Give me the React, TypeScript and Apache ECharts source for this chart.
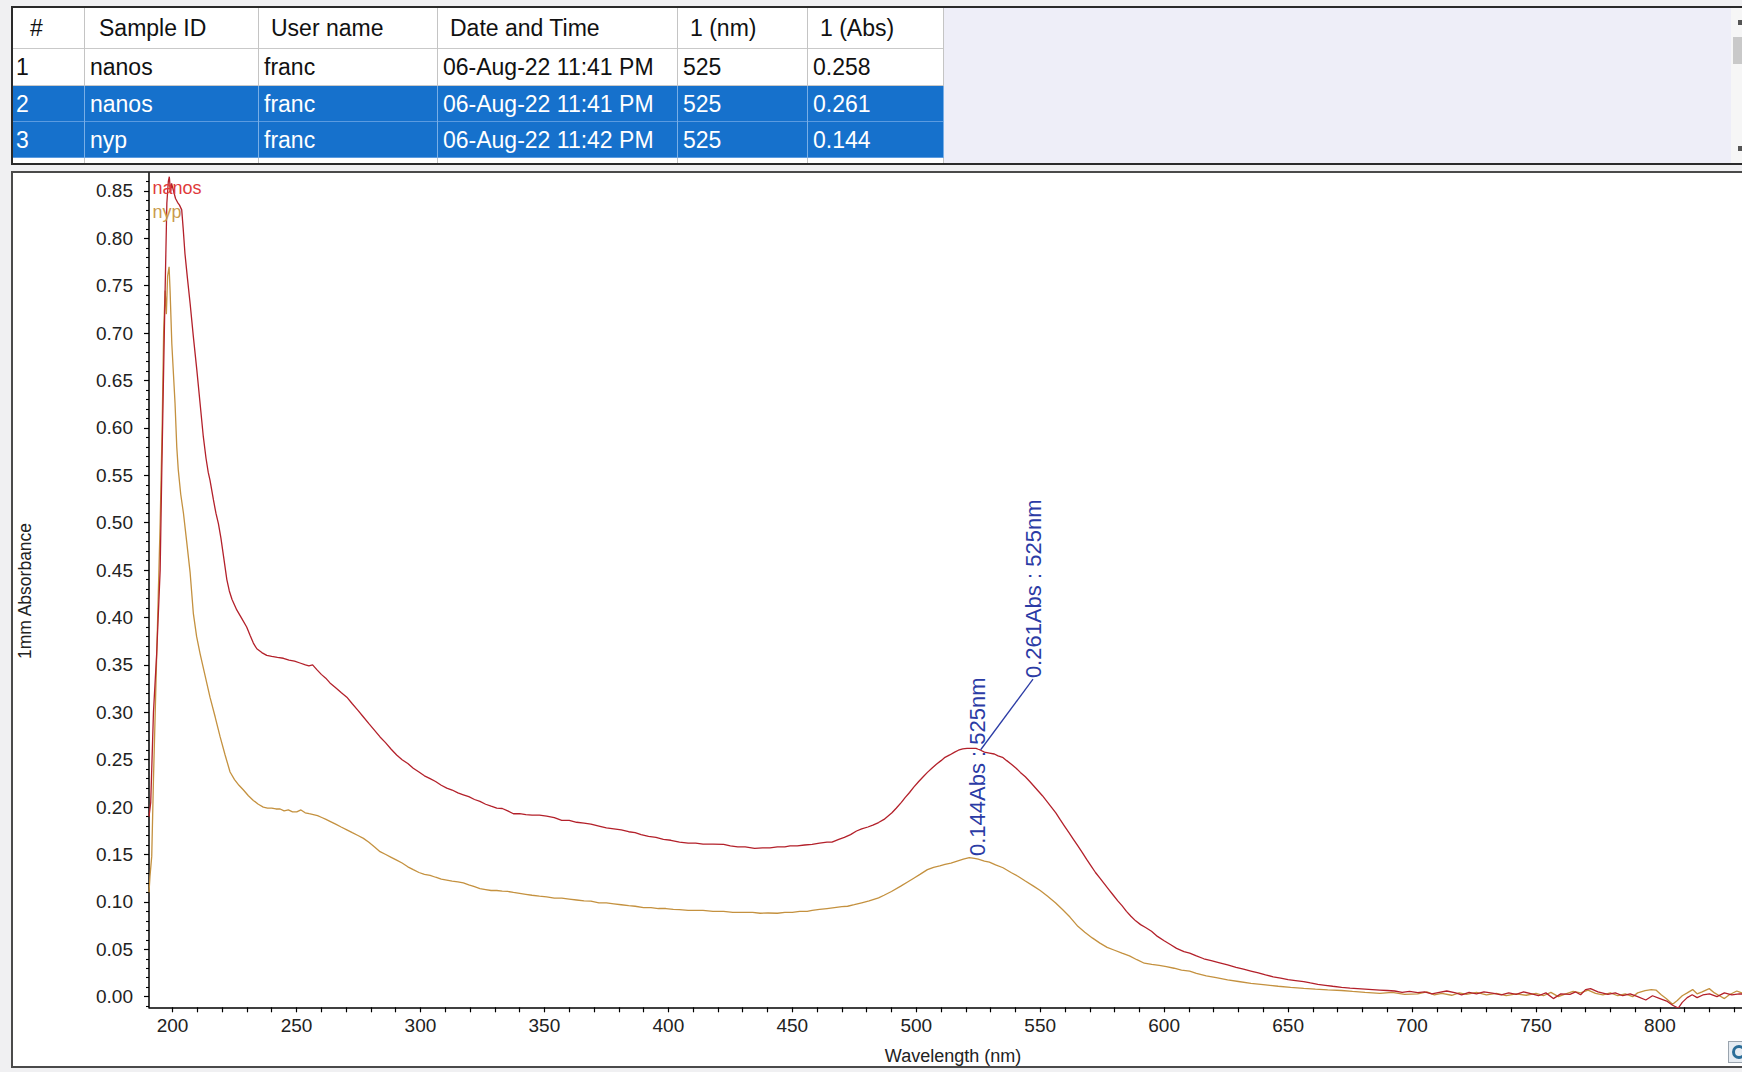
import React, { useEffect, useRef } from "react";
import * as echarts from "echarts";

const FONT = "'Liberation Sans', Arial, Helvetica, sans-serif";

// ---------- table content ----------
const tableColumns = ["#", "Sample ID", "User name", "Date and Time", "1 (nm)", "1 (Abs)"];
const rowNumbers = ["1", "2", "3"];
const sampleIds = ["nanos", "nanos", "nyp"];
const userNames = ["franc", "franc", "franc"];
const dateTimes = ["06-Aug-22 11:41 PM", "06-Aug-22 11:41 PM", "06-Aug-22 11:42 PM"];
const peakWavelengths = ["525", "525", "525"];
const peakAbsorbances = ["0.258", "0.261", "0.144"];
const selectedRows = [false, true, true];

// ---------- axes ----------
const xLabelValues = [200, 250, 300, 350, 400, 450, 500, 550, 600, 650, 700, 750, 800];
const xTickValues = [
  200, 210, 220, 230, 240, 250, 260, 270, 280, 290, 300, 310, 320, 330, 340, 350, 360, 370, 380, 390,
  400, 410, 420, 430, 440, 450, 460, 470, 480, 490, 500, 510, 520, 530, 540, 550, 560, 570, 580, 590,
  600, 610, 620, 630, 640, 650, 660, 670, 680, 690, 700, 710, 720, 730, 740, 750, 760, 770, 780, 790,
  800, 810, 820, 830,
];
const yLabelValues = [0, 0.05, 0.1, 0.15, 0.2, 0.25, 0.3, 0.35, 0.4, 0.45, 0.5, 0.55, 0.6, 0.65, 0.7, 0.75, 0.8, 0.85];
const xAxisName = "Wavelength (nm)";
const yAxisName = "1mm Absorbance";
const seriesNames = ["nanos", "nyp"];

// ---------- spectra [wavelength nm, absorbance] ----------
const nanosSpectrum = [
  [190.5, 0.19], [191.2, 0.205], [192.3, 0.3], [193.6, 0.362], [195.0, 0.45], [195.6, 0.545], [196.3, 0.647],
  [197.0, 0.745], [197.7, 0.837], [198.3, 0.86], [198.7, 0.865], [199.2, 0.848], [199.6, 0.858], [200.3, 0.851],
  [201.2, 0.842], [202.0, 0.838], [202.8, 0.835], [203.7, 0.83], [204.3, 0.81], [205.0, 0.784], [206.0, 0.758],
  [207.1, 0.731], [208.4, 0.696], [209.8, 0.661], [211.1, 0.626], [212.4, 0.591], [213.5, 0.568], [214.4, 0.553],
  [215.1, 0.545], [216.5, 0.524], [217.5, 0.51], [218.5, 0.499], [219.5, 0.484], [220.6, 0.464], [221.9, 0.44],
  [222.9, 0.428], [224.0, 0.419], [225.9, 0.408], [227.9, 0.399], [229.9, 0.39], [231.3, 0.381], [232.6, 0.373],
  [234.0, 0.367], [236.0, 0.363], [238.0, 0.36], [240.0, 0.359], [242.3, 0.358], [244.7, 0.357], [247.0, 0.355],
  [249.2, 0.354], [251.4, 0.352], [253.6, 0.35], [255.0, 0.349], [256.5, 0.35], [258.2, 0.345], [260.0, 0.34],
  [261.8, 0.336], [263.5, 0.331], [265.8, 0.326], [268.0, 0.321], [270.3, 0.316], [272.5, 0.309], [274.8, 0.302],
  [277.0, 0.295], [279.2, 0.288], [281.5, 0.281], [283.7, 0.274], [285.9, 0.268], [288.2, 0.261], [290.4, 0.255],
  [292.6, 0.25], [294.9, 0.246], [297.1, 0.241], [299.4, 0.237], [301.6, 0.233], [303.9, 0.23], [306.1, 0.227],
  [308.4, 0.223], [310.6, 0.22], [312.8, 0.218], [315.1, 0.215], [317.3, 0.213], [319.5, 0.211], [321.8, 0.208],
  [324.0, 0.206], [326.3, 0.203], [328.5, 0.201], [330.8, 0.199], [333.0, 0.1985], [335.2, 0.196], [337.5, 0.193],
  [340.0, 0.193], [342.5, 0.192], [345.0, 0.1915], [348.0, 0.1915], [350.9, 0.1905], [354.0, 0.189], [357.0, 0.186],
  [360.0, 0.186], [363.0, 0.184], [366.0, 0.183], [368.75, 0.182], [372.0, 0.18], [375.0, 0.178], [378.0, 0.177],
  [381.0, 0.176], [384.0, 0.174], [386.6, 0.173], [389.0, 0.171], [392.0, 0.169], [395.0, 0.168], [398.0, 0.166],
  [401.0, 0.165], [404.5, 0.163], [408.0, 0.162], [411.0, 0.162], [414.0, 0.161], [418.0, 0.161], [422.3, 0.1607],
  [425.0, 0.159], [428.0, 0.158], [431.0, 0.158], [434.8, 0.1565], [438.0, 0.157], [441.0, 0.157], [444.0, 0.158],
  [447.0, 0.158], [449.1, 0.159], [452.0, 0.159], [455.0, 0.16], [458.0, 0.1607], [461.0, 0.162], [464.0, 0.163],
  [466.0, 0.163], [468.75, 0.166], [471.0, 0.168], [473.5, 0.171], [475.9, 0.1748], [478.0, 0.177], [480.5, 0.179],
  [482.5, 0.181], [484.8, 0.1837], [487.0, 0.187], [490.2, 0.194], [492.0, 0.199], [494.0, 0.205], [495.5, 0.21],
  [497.3, 0.2154], [499.0, 0.221], [501.0, 0.227], [502.8, 0.232], [504.5, 0.2366], [506.3, 0.241], [508.0, 0.245],
  [510.0, 0.249], [511.6, 0.2525], [513.5, 0.255], [515.5, 0.258], [517.0, 0.26], [518.75, 0.2614], [520.5, 0.262],
  [522.3, 0.262], [524.1, 0.262], [525.0, 0.261], [526.0, 0.26], [527.5, 0.258], [529.5, 0.257], [531.5, 0.256],
  [533.0, 0.254], [534.8, 0.2525], [536.5, 0.249], [538.5, 0.245], [540.3, 0.241], [542.0, 0.2366], [544.0, 0.232],
  [545.8, 0.227], [547.5, 0.222], [549.2, 0.217], [550.9, 0.212], [552.7, 0.206], [554.5, 0.2], [556.3, 0.194],
  [558.0, 0.187], [559.8, 0.18], [561.6, 0.173], [563.4, 0.166], [565.2, 0.159], [567.0, 0.152], [568.75, 0.1448],
  [570.5, 0.138], [572.3, 0.131], [574.1, 0.125], [575.9, 0.119], [577.7, 0.113], [579.5, 0.107], [581.3, 0.101],
  [583.0, 0.096], [584.8, 0.09], [586.6, 0.0848], [588.5, 0.08], [590.5, 0.076], [592.5, 0.073], [594.9, 0.069],
  [597.3, 0.0636], [600.0, 0.059], [602.5, 0.055], [605.0, 0.051], [608.0, 0.0475], [610.3, 0.046], [613.0, 0.043],
  [616.0, 0.04], [619.0, 0.038], [622.0, 0.036], [625.6, 0.0336], [629.0, 0.031], [632.0, 0.029], [635.0, 0.027],
  [638.0, 0.025], [640.9, 0.023], [644.0, 0.021], [647.0, 0.0195], [650.0, 0.018], [653.0, 0.017], [656.3, 0.0159],
  [659.0, 0.0145], [662.0, 0.013], [665.0, 0.012], [668.0, 0.011], [671.6, 0.0099], [675.0, 0.009], [678.0, 0.0085],
  [681.0, 0.008], [684.0, 0.0075], [687.0, 0.007], [690.0, 0.0065], [693.0, 0.006], [696.0, 0.0045], [699.0, 0.0055],
  [702.3, 0.0042], [705.0, 0.005], [708.0, 0.003], [711.0, 0.0045], [714.0, 0.006], [717.6, 0.004], [720.0, 0.002],
  [723.0, 0.0045], [726.0, 0.003], [729.0, 0.005], [733.0, 0.0035], [736.0, 0.002], [739.0, 0.004], [742.0, 0.0025],
  [745.0, 0.005], [748.3, 0.003], [751.0, 0.001], [754.0, 0.004], [757.0, -0.002], [760.0, 0.003], [763.7, 0.0024],
  [766.0, 0.005], [768.0, 0.002], [770.0, 0.0075], [772.0, 0.0085], [775.0, 0.005], [779.0, 0.0024], [782.0, 0.004],
  [785.0, 0.001], [788.0, 0.003], [791.0, 0.0], [794.3, -0.0035], [797.0, 0.001], [800.0, -0.002], [803.0, -0.005],
  [805.1, -0.009], [807.4, -0.012], [809.0, -0.006], [811.0, -0.001], [813.0, 0.002], [815.0, -0.001], [817.3, 0.0018],
  [820.0, 0.003], [823.0, 0.0], [826.0, 0.004], [829.0, 0.002], [832.0, 0.003], [835.4, 0.0024],
];

const nypSpectrum = [
  [190.5, 0.11], [190.9, 0.127], [191.6, 0.148], [192.3, 0.229], [193.0, 0.299], [194.0, 0.4], [195.0, 0.5],
  [195.8, 0.6], [196.4, 0.7], [197.0, 0.745], [197.5, 0.72], [198.0, 0.76], [198.6, 0.77], [199.0, 0.745],
  [199.7, 0.689], [200.4, 0.655], [201.0, 0.626], [201.7, 0.58], [202.3, 0.556], [203.3, 0.53], [204.4, 0.51],
  [205.7, 0.48], [207.1, 0.447], [208.4, 0.404], [209.7, 0.38], [211.1, 0.362], [213.1, 0.339], [215.1, 0.316],
  [217.2, 0.295], [219.2, 0.274], [221.2, 0.255], [223.2, 0.237], [225.0, 0.229], [226.8, 0.223], [228.6, 0.218],
  [230.6, 0.212], [232.6, 0.207], [234.6, 0.203], [236.6, 0.2], [238.3, 0.199], [240.0, 0.199], [241.7, 0.198],
  [243.4, 0.198], [245.0, 0.196], [246.7, 0.197], [248.4, 0.195], [250.1, 0.195], [251.8, 0.197], [253.5, 0.194],
  [255.1, 0.193], [256.8, 0.192], [258.5, 0.191], [260.2, 0.189], [261.9, 0.187], [263.5, 0.185], [265.8, 0.182],
  [268.0, 0.179], [270.3, 0.176], [272.5, 0.173], [274.8, 0.17], [277.0, 0.167], [279.2, 0.163], [281.5, 0.158],
  [283.7, 0.153], [286.0, 0.15], [288.2, 0.147], [290.4, 0.144], [292.6, 0.141], [294.9, 0.137], [297.1, 0.134],
  [299.4, 0.131], [301.6, 0.129], [303.9, 0.128], [306.1, 0.126], [308.4, 0.124], [310.6, 0.123], [312.8, 0.122],
  [315.1, 0.121], [317.3, 0.12], [319.5, 0.118], [321.8, 0.116], [324.0, 0.114], [326.3, 0.113], [328.5, 0.112],
  [330.8, 0.112], [333.0, 0.1113], [335.2, 0.111], [337.5, 0.11], [340.0, 0.109], [342.5, 0.108], [345.0, 0.107],
  [348.0, 0.106], [350.9, 0.1053], [354.0, 0.104], [357.0, 0.104], [360.0, 0.103], [363.0, 0.102], [366.0, 0.101],
  [368.75, 0.1007], [372.0, 0.099], [375.0, 0.099], [378.0, 0.098], [381.0, 0.097], [384.0, 0.096], [386.6, 0.0954],
  [390.0, 0.094], [393.0, 0.094], [396.0, 0.093], [399.0, 0.093], [402.0, 0.092], [404.5, 0.0918], [408.0, 0.091],
  [411.0, 0.091], [414.0, 0.091], [418.0, 0.09], [422.3, 0.09], [426.0, 0.089], [430.0, 0.089], [434.0, 0.089],
  [437.0, 0.088], [440.2, 0.0883], [444.0, 0.088], [447.0, 0.089], [450.0, 0.089], [453.0, 0.09], [456.0, 0.09],
  [458.0, 0.091], [461.0, 0.092], [464.0, 0.093], [467.0, 0.094], [470.0, 0.095], [472.3, 0.0954], [475.0, 0.097],
  [478.0, 0.099], [481.0, 0.101], [484.8, 0.1042], [487.0, 0.107], [490.0, 0.111], [493.75, 0.1166], [496.5, 0.121],
  [499.0, 0.125], [501.5, 0.129], [504.5, 0.134], [507.0, 0.1365], [509.5, 0.138], [511.6, 0.1395], [514.0, 0.141],
  [516.5, 0.143], [519.0, 0.145], [521.4, 0.1466], [523.5, 0.146], [525.0, 0.145], [527.5, 0.143], [529.5, 0.142],
  [532.0, 0.139], [535.0, 0.136], [538.4, 0.1307], [541.0, 0.127], [544.0, 0.122], [547.3, 0.1166], [550.0, 0.112],
  [553.0, 0.106], [556.25, 0.0989], [559.0, 0.092], [562.0, 0.084], [565.2, 0.0742], [568.0, 0.068], [571.0, 0.062],
  [574.1, 0.0565], [577.0, 0.052], [580.0, 0.049], [583.0, 0.0459], [586.0, 0.043], [589.0, 0.039], [592.0, 0.0353],
  [595.0, 0.034], [598.0, 0.033], [600.9, 0.0318], [604.0, 0.03], [607.0, 0.028], [610.3, 0.027], [613.0, 0.0247],
  [617.0, 0.022], [621.0, 0.02], [625.6, 0.0177], [630.0, 0.016], [635.0, 0.014], [640.9, 0.0124], [646.0, 0.011],
  [651.0, 0.0098], [656.3, 0.0088], [661.0, 0.008], [666.0, 0.0072], [671.6, 0.0065], [676.0, 0.0055], [681.0, 0.0045],
  [687.0, 0.0035], [692.0, 0.0045], [697.0, 0.0025], [702.3, 0.003], [706.0, 0.005], [709.0, 0.002], [712.0, 0.0035],
  [716.0, 0.0015], [719.0, 0.004], [722.0, 0.0025], [726.0, 0.0045], [730.0, 0.002], [734.0, 0.0035], [738.0, 0.001],
  [742.0, 0.003], [746.0, 0.0015], [750.0, 0.0035], [753.0, 0.001], [756.0, 0.0045], [759.0, 0.0], [762.0, 0.003],
  [765.0, 0.0055], [768.0, 0.004], [771.0, 0.007], [774.0, 0.0035], [777.0, 0.002], [780.0, 0.004], [783.0, 0.001],
  [786.0, 0.003], [789.0, 0.0], [791.0, 0.004], [794.0, 0.0065], [796.5, 0.0075], [798.4, 0.007], [800.5, 0.002],
  [802.5, -0.002], [805.1, -0.008], [807.0, -0.004], [809.0, 0.001], [811.0, 0.004], [813.2, 0.0075], [815.0, 0.003],
  [817.0, 0.005], [819.9, 0.0085], [822.0, 0.004], [824.0, 0.001], [826.0, -0.002], [828.0, 0.002], [831.0, 0.006],
  [834.0, 0.003], [836.0, 0.0045],
];

// peak annotations: label anchor in data coordinates (and leader line start)
const annotationTexts = ["0.261Abs : 525nm", "0.144Abs : 525nm"];
const annotationAnchors = [[547.1, 0.335], [524.5, 0.1463]];
const leaderLineFrom = [526.0, 0.2605];

const NANOS_COLOR = "#b3202a";
const NYP_COLOR = "#c4913f";
const ANNOT_COLOR = "#2b3ba5";

// ---------- layout (px) ----------
const colEdges = [11, 84, 258, 437, 677, 807, 943];
const rowEdges = [8, 49, 86, 122, 158, 163];
const headerPad = [19, 15, 13, 13, 13, 13];

function Table() {
  const cells: React.ReactNode[] = [];
  for (let r = 0; r < 5; r++) {
    const top = rowEdges[r];
    const h = rowEdges[r + 1] - top;
    const isSel = r >= 1 && r <= 3 && selectedRows[r - 1];
    cells.push(
      <div key={"bg" + r} style={{ position: "absolute", left: 13, top, width: colEdges[6] - 13, height: h, background: isSel ? "#1671cc" : "#ffffff", borderBottom: r < 4 ? "1px solid " + (isSel ? "#5b9be0" : "#c9c9c9") : "none", boxSizing: "border-box" }} />
    );
  }
  for (let c = 1; c < colEdges.length; c++) {
    cells.push(
      <div key={"v" + c} style={{ position: "absolute", left: colEdges[c], top: 8, width: 1, height: 155, background: "#c4c4c4" }} />
    );
    cells.push(
      <div key={"vs" + c} style={{ position: "absolute", left: colEdges[c], top: 86, width: 1, height: 72, background: "#78aee6" }} />
    );
  }
  const rows = [rowNumbers, sampleIds, userNames, dateTimes, peakWavelengths, peakAbsorbances];
  tableColumns.forEach((t, c) => {
    cells.push(
      <div key={"h" + c} style={{ position: "absolute", left: colEdges[c] + headerPad[c], top: rowEdges[0], height: rowEdges[1] - rowEdges[0], lineHeight: rowEdges[1] - rowEdges[0] + "px", fontSize: 23, color: "#111", whiteSpace: "nowrap" }}>{t}</div>
    );
  });
  for (let r = 0; r < 3; r++) {
    for (let c = 0; c < 6; c++) {
      const top = rowEdges[r + 1];
      const h = rowEdges[r + 2] - top;
      cells.push(
        <div key={"c" + r + "_" + c} style={{ position: "absolute", left: colEdges[c] + (c === 0 ? 5 : 6), top, height: h, lineHeight: h + "px", fontSize: 23, color: selectedRows[r] ? "#ffffff" : "#111", whiteSpace: "nowrap" }}>{rows[c][r]}</div>
      );
    }
  }
  return (
    <div style={{ position: "absolute", left: 11, top: 6, width: 1731, height: 159, background: "#eeeef8", borderTop: "2px solid #2a2a2a", borderBottom: "2px solid #2a2a2a", borderLeft: "2px solid #2a2a2a", boxSizing: "border-box" }}>
      <div style={{ position: "absolute", left: -13, top: -8, width: 1742, height: 163, overflow: "hidden" }}>
        {cells}
        <div style={{ position: "absolute", left: 1731, top: 8, width: 11, height: 155, background: "#f6f6f6" }} />
        <div style={{ position: "absolute", left: 1733, top: 37, width: 9, height: 27, background: "#c9c9c9" }} />
        <div style={{ position: "absolute", left: 1738, top: 20, width: 4, height: 5, background: "#555" }} />
        <div style={{ position: "absolute", left: 1738, top: 146, width: 4, height: 5, background: "#555" }} />
      </div>
    </div>
  );
}

function Chart() {
  const ref = useRef<HTMLDivElement>(null);
  useEffect(() => {
    if (!ref.current) return;
    const chart = echarts.init(ref.current, undefined, { renderer: "svg" });
    const yMinor: number[] = [];
    [-0.05].concat(yLabelValues).forEach((v) => {
      for (let k = 1; k < 5; k++) {
        const m = +(v + k * 0.01).toFixed(2);
        if (m > -0.0112 && m < 0.8689) yMinor.push(m);
      }
    });
    const axisFont = { fontFamily: FONT, fontSize: 19, color: "#222" };
    const option: any = {
      animation: false,
      backgroundColor: "transparent",
      grid: { left: 149, top: 173, right: 0, bottom: 64.7, containLabel: false },
      xAxis: [
        {
          type: "value", min: 190.5, max: 833.1,
          axisLine: { show: true, onZero: false, lineStyle: { color: "#000", width: 1.5 } },
          axisTick: { show: true, length: 5, customValues: xTickValues, lineStyle: { color: "#000", width: 1.2 } },
          axisLabel: { show: true, customValues: xLabelValues, margin: 9, ...axisFont },
          splitLine: { show: false },
        },
      ],
      yAxis: [
        {
          type: "value", min: -0.0112, max: 0.8689,
          axisLine: { show: true, onZero: false, lineStyle: { color: "#000", width: 1.5 } },
          axisTick: { show: true, length: 5, customValues: yLabelValues, lineStyle: { color: "#000", width: 1.2 } },
          axisLabel: { show: true, customValues: yLabelValues, margin: 16, formatter: (v: number) => v.toFixed(2), ...axisFont },
          splitLine: { show: false },
        },
        {
          type: "value", min: -0.0112, max: 0.8689, position: "left", offset: 0,
          axisLine: { show: false, onZero: false },
          axisTick: { show: true, length: 3, customValues: yMinor, lineStyle: { color: "#000", width: 1.1 } },
          axisLabel: { show: false },
          splitLine: { show: false },
        },
      ],
      series: [
        {
          name: seriesNames[1], type: "line", data: nypSpectrum, showSymbol: false, symbol: "none", silent: true,
          lineStyle: { color: NYP_COLOR, width: 1.3 }, itemStyle: { color: NYP_COLOR }, z: 2,
        },
        {
          name: seriesNames[0], type: "line", data: nanosSpectrum, showSymbol: false, symbol: "none", silent: true,
          lineStyle: { color: NANOS_COLOR, width: 1.3 }, itemStyle: { color: NANOS_COLOR }, z: 3,
          markLine: {
            silent: true, symbol: ["none", "none"], label: { show: false }, animation: false,
            lineStyle: { color: ANNOT_COLOR, width: 1.3, type: "solid" },
            data: [[{ coord: leaderLineFrom }, { coord: annotationAnchors[0] }]],
          },
        },
      ],
    };
    chart.setOption(option);

    const annoGraphics = annotationTexts.map((t, i) => {
      const p = chart.convertToPixel({ gridIndex: 0 }, annotationAnchors[i]) as number[];
      return {
        type: "text", x: p[0] + (i === 0 ? 0 : 1), y: p[1] - (i === 0 ? 1 : 2), rotation: Math.PI / 2, silent: true, z: 10,
        style: { text: t, x: 0, y: 0, fill: ANNOT_COLOR, fontSize: 22, fontFamily: FONT, align: "left", verticalAlign: "middle", textAlign: "left", textVerticalAlign: "middle" },
      };
    });
    chart.setOption({
      graphic: [
        ...annoGraphics,
        { type: "text", x: 152.5, y: 187.5, silent: true, z: 10, style: { text: seriesNames[0], fill: "#e03a3a", fontSize: 18, fontFamily: FONT, align: "left", verticalAlign: "middle", textAlign: "left", textVerticalAlign: "middle" } },
        { type: "text", x: 152.5, y: 212, silent: true, z: 10, style: { text: seriesNames[1], fill: "#c99a4c", fontSize: 18, fontFamily: FONT, align: "left", verticalAlign: "middle", textAlign: "left", textVerticalAlign: "middle" } },
        { type: "text", x: 24.5, y: 591, rotation: Math.PI / 2, silent: true, style: { text: yAxisName, fill: "#222", fontSize: 17.5, fontFamily: FONT, align: "center", verticalAlign: "middle", textAlign: "center", textVerticalAlign: "middle" } },
        { type: "text", x: 953, y: 1055.5, silent: true, style: { text: xAxisName, fill: "#222", fontSize: 18, fontFamily: FONT, align: "center", verticalAlign: "middle", textAlign: "center", textVerticalAlign: "middle" } },
      ],
    });
    return () => chart.dispose();
  }, []);
  return <div ref={ref} style={{ position: "absolute", left: 0, top: 0, width: 1742, height: 1072, zIndex: 2 }} />;
}

export default function App() {
  return (
    <div style={{ position: "fixed", left: 0, top: 0, width: 1742, height: 1072, background: "#f0f0f2", overflow: "hidden", fontFamily: FONT }}>
      <Table />
      <div style={{ position: "absolute", left: 11, top: 171, width: 1745, height: 897, background: "#ffffff", border: "2px solid #4a4a4a", boxSizing: "border-box", zIndex: 1 }} />
      <div style={{ position: "absolute", left: 1728, top: 1041, width: 18, height: 22, background: "#e6ecf2", border: "1px solid #9aa4ae", boxSizing: "border-box", zIndex: 3 }}>
        <div style={{ position: "absolute", left: 3, top: 3, width: 14, height: 14, borderRadius: 8, border: "3px solid #2b6d98", boxSizing: "border-box" }} />
      </div>
      <Chart />
    </div>
  );
}
